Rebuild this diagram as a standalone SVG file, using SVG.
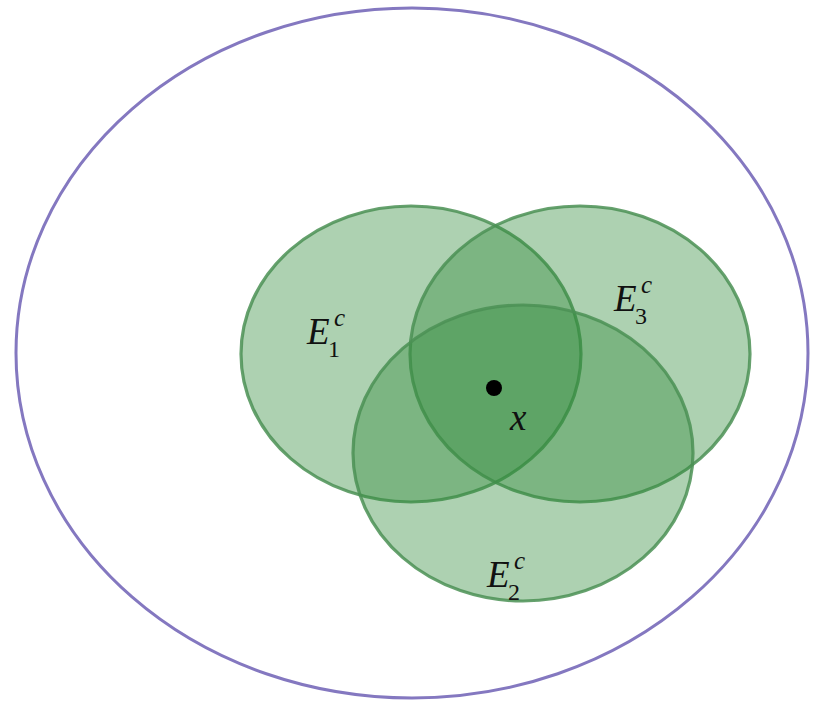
<svg xmlns="http://www.w3.org/2000/svg" width="815" height="702" viewBox="0 0 815 702">
<style>
.set{fill:rgb(50,140,60);fill-opacity:0.4;stroke:rgb(75,145,85);stroke-opacity:0.85;stroke-width:3.2}
.lbl{font-family:"Liberation Serif","DejaVu Serif",serif;font-style:italic;fill:#111}
.main{font-size:37px}
.sub{font-size:24px;font-style:normal}
.sup{font-size:25px}
</style>
<rect width="815" height="702" fill="#ffffff"/>
<g id="universe"><ellipse cx="412" cy="353" rx="396" ry="345" fill="none" stroke="#8478c0" stroke-width="3"/></g>
<g id="E1"><ellipse class="set" cx="411" cy="354" rx="170" ry="148"/></g>
<g id="E3"><ellipse class="set" cx="580" cy="354" rx="170" ry="148"/></g>
<g id="E2"><ellipse class="set" cx="523" cy="453" rx="170" ry="148"/></g>
<g id="point"><circle cx="494" cy="388" r="8" fill="#000"/></g>
<g id="labels">
<text class="lbl main" x="307" y="344">E</text><text class="lbl sub" x="328" y="357">1</text><text class="lbl sup" x="334" y="326">c</text>
<text class="lbl main" x="614" y="311">E</text><text class="lbl sub" x="635" y="324">3</text><text class="lbl sup" x="641" y="293">c</text>
<text class="lbl main" x="487" y="587">E</text><text class="lbl sub" x="508" y="600">2</text><text class="lbl sup" x="514" y="569">c</text>
<text class="lbl main" x="510" y="430">x</text>
</g>
</svg>
